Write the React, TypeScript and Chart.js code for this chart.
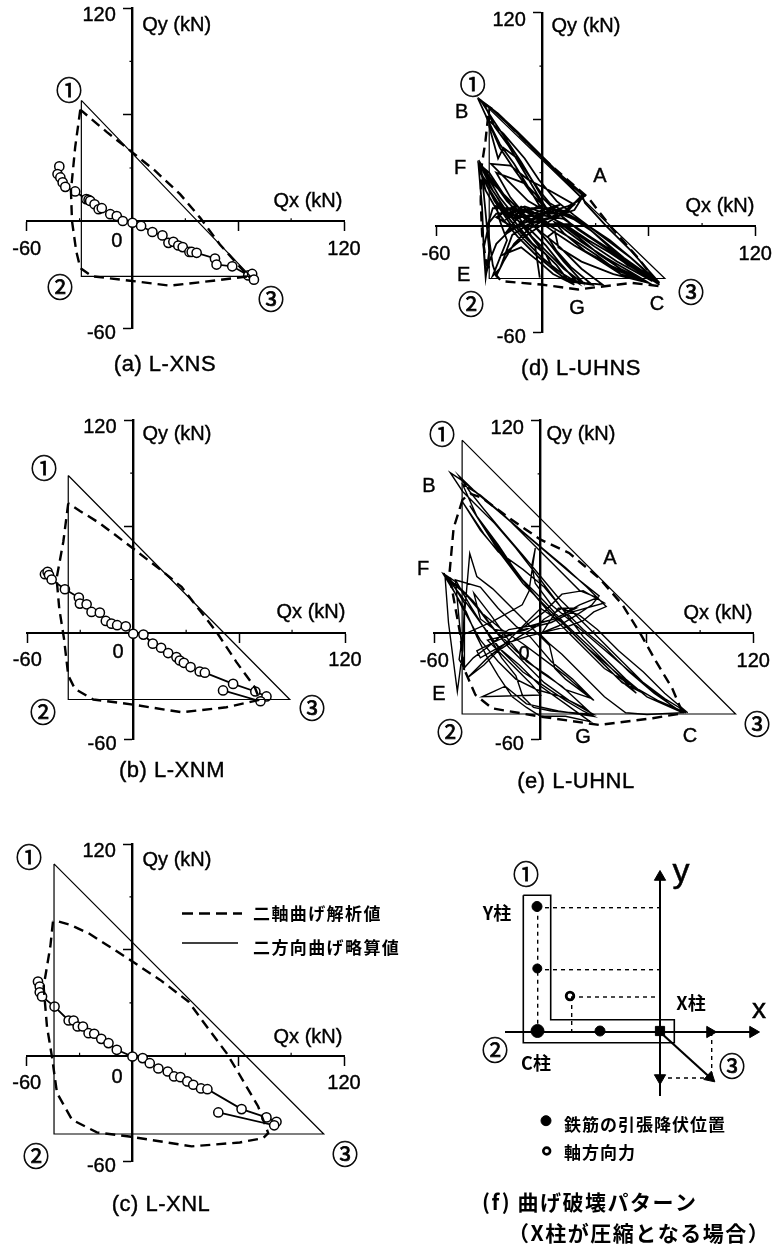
import React, { useEffect, useRef } from "react";
import { Chart, registerables } from "chart.js";

Chart.register(...registerables);

type P = [number, number];

// ---------- shared axis data ----------
const axisTickValuesX = [-60, 60, 120];
const axisTickValuesY = [-60, 60, 120];
const minorTickValuesX = [-30, 30, 90];
const minorTickValuesY = [30, 90];
const xTickLabels: Record<number, string> = { [-60]: "-60", 120: "120" };
const yTickLabels: Record<number, string> = { [-60]: "-60   ", 120: "120   " };

// ---------- (a) L-XNS ----------
const boundA: P[] = [[-29, 68], [-29, -31], [67, -31], [-29, 68]];
const analysisA: P[] = [[-29.6, 62.8], [-32.5, 41.7], [-34.9, 17.2], [-34.3, 0.2], [-31.9, -16.8], [-29.6, -26.2], [-23, -30.9], [-1.3, -33.4], [21.3, -36.2], [45.8, -33.4], [65.7, -30.9], [49.6, -13], [38.3, 2.1], [27, 15.3], [12.8, 28.5], [-1.3, 39.8], [-14.5, 50.2], [-29.6, 62.8]];
const testA: P[] = [[-41.5, 30.9], [-42.5, 26.6], [-40.9, 24.7], [-39.6, 21.9], [-38.1, 19.4], [-32.5, 16.8], [-26.2, 12.5], [-24.9, 12.1], [-24, 11.5], [-21.5, 9.6], [-19.2, 6.8], [-17.4, 7.4], [-12.6, 4], [-8.9, 3], [-5.5, 0.2], [0, -0.8], [4.9, -2.6], [11.3, -6], [17, -7.9], [20.4, -12.1], [23.2, -11.5], [26, -13.6], [28.5, -14.5], [32.3, -17.2], [33.6, -17.2], [36.4, -17.7], [46.8, -20.9], [47.7, -24.3], [56.6, -25.3], [65.7, -30.4], [67.9, -29.6], [68.9, -32.8]];

// ---------- (b) L-XNM ----------
const boundB: P[] = [[-36.8, 88.7], [-36.8, -37.7], [88.7, -37.7], [-36.8, 88.7]];
const analysisB: P[] = [[-36.8, 73], [-39.6, 51.3], [-43.4, 30.6], [-41.9, 13.6], [-39.2, -3.4], [-36.8, -24.2], [-33, -31.7], [-22.6, -37.7], [0, -40.6], [27.4, -44.9], [52.8, -42.1], [71.7, -37.9], [68.9, -30.8], [58.5, -16.6], [47.2, 0.4], [37.7, 12.6], [27.4, 25.8], [17, 34.3], [0, 47.5], [-18.9, 61.7], [-30.2, 68.7], [-36.8, 73]];
const testB: P[] = [[-50, 33], [-48.5, 34.3], [-47.7, 32.5], [-46.2, 30], [-38.7, 24.5], [-30.8, 19.8], [-30.2, 16.4], [-26.4, 16], [-23.6, 11.7], [-18.9, 11.3], [-15.5, 6.6], [-12.3, 5.1], [-9.1, 4.2], [-4.2, 3.6], [0, -0.6], [5.8, -1.1], [11.1, -6.2], [15.8, -8.5], [19.8, -11.5], [24.5, -13.8], [26.4, -15.7], [28.7, -17], [32.5, -19.4], [37.7, -21.9], [40.6, -22.6], [56.6, -28.9], [69.2, -33.2], [75.5, -36], [72.1, -38.7], [50.9, -32.6]];

// ---------- (c) L-XNL ----------
const boundC: P[] = [[-44.5, 108.7], [-44.5, -44.3], [108.5, -44.3], [-44.5, 108.7]];
const analysisC: P[] = [[-45.1, 76], [-46.6, 61.9], [-50.4, 39.2], [-48.5, 16.6], [-45.7, -0.4], [-42.8, -21.1], [-34.3, -36.2], [-20.2, -43.4], [0, -46], [33.6, -51.3], [60.9, -49.1], [74.2, -46.6], [77, -43.8], [71.3, -28.7], [59.1, -7.9], [53.4, 1.5], [42.1, 16.6], [31.7, 30.8], [15.7, 43], [0, 53.4], [-14.5, 62.8], [-24.9, 69.4], [-35.3, 74.2], [-43.8, 76.6], [-45.1, 76]];
const testC: P[] = [[-53.6, 42.1], [-52.6, 39.2], [-52.6, 36], [-51.3, 33.6], [-44.2, 27.9], [-36.2, 20], [-33.4, 20], [-31.1, 16.6], [-28.1, 16.6], [-24.9, 12.8], [-21.7, 12.5], [-17.7, 9.6], [-13.6, 7.2], [-8.9, 3.4], [0, -0.4], [5.8, -1.3], [9.8, -4.2], [14.7, -7.2], [20, -8.9], [23.6, -11.7], [27.2, -12.1], [31.1, -14.5], [34.5, -16.4], [38.9, -18.5], [42.5, -18.9], [61.9, -30.2], [76, -34.9], [81.7, -37.4], [80.4, -39.4], [48.7, -32.1]];

// ---------- (d) L-UHNS ----------
const boundD: P[] = [[-30, 66], [-30, -29.5], [69, -29.5], [-30, 66]];
const analysisD: P[] = [[-30.6, 62], [-32.1, 47.9], [-34.4, 32.9], [-34.8, 14.1], [-34, -4.7], [-31.6, -21.6], [-23.1, -31], [-0.6, -32.9], [20.1, -35.7], [50.2, -32], [66.2, -33.8], [53.9, -17.9], [38.9, -0.9], [25.8, 16], [12.6, 27.3], [0, 38.5], [-13.7, 51.7], [-26.9, 64.8], [-35.9, 70.9]];
const testD: P[] = [
  [0, 0], [6, 4], [12, 7], [18, 9], [23, 17], [12, 27], [0, 39], [-12, 51], [-24, 62], [-34, 70], [-36, 71],
  [-30, 58], [-24, 46], [-16, 35], [-8, 22], [-2, 12], [4, 5], [14, 0], [26, -8], [38, -15], [50, -23], [60, -29], [66, -33],
  [52, -24], [40, -14], [28, -3], [16, 5], [6, 10], [-6, 10], [-16, 8], [-26, 7], [-30, 2], [-33, -12], [-32, -28],
  [-30, -20], [-26, -10], [-20, -4], [-12, 1], [-4, 4], [4, 8], [14, 11], [20, 14], [24, 17],
  [10, 29], [-2, 41], [-14, 53], [-26, 64], [-35, 71],
  [-28, 60], [-20, 48], [-12, 36], [-6, 26], [0, 16], [8, 8], [20, -2], [32, -10], [44, -18], [56, -26], [66, -32],
  [46, -18], [34, -8], [22, 2], [10, 7], [-4, 7], [-18, 10], [-28, 10], [-31, 0], [-28, -22], [-26, -28],
  [-22, -20], [-16, -10], [-8, -2], [2, 4], [12, 8], [22, 16],
  [8, 30], [-6, 44], [-18, 56], [-30, 67],
  [-30, 56], [-25, 38], [-22, 44], [-14, 38], [-6, 26], [-1, 19], [4, 13], [14, 7], [26, 0], [38, -8], [50, -18], [62, -29],
  [48, -22], [36, -12], [24, -4], [12, 4], [0, 6], [-14, 5], [-26, 11], [-24, 3], [-20, -8], [-28, -28],
  [-24, -24], [-17, -5], [-8, 1], [0, 3], [10, 6], [18, 12],
  [4, 20], [-8, 26], [-18, 34], [-29, 35], [-18, 24], [-8, 14], [-1, 10], [8, 3], [20, -6], [32, -16], [44, -24], [58, -31],
  [42, -25], [30, -16], [18, -8], [6, -1], [-4, 5], [-16, 12], [-28, 24], [-36, 37],
  [-30, 26], [-24, 16], [-16, 6], [-8, -4], [0, -14], [8, -22], [14, -30], [24, -32], [34, -33],
  [22, -24], [10, -12], [0, -4], [-10, 4], [-20, 14], [-30, 28], [-36, 36],
  [-28, 20], [-20, 8], [-12, -2], [-4, -12], [-1.5, -29], [-4, -12], [-12, -4], [-22, 8], [-32, 24], [-36, 34],
  [-34, 10], [-33, -15], [-32, -29], [-30, -14], [-34, 28], [-27, 14], [-18, 1], [-10, -8], [0, -18], [10, -26], [20, -32],
  [10, -21], [2, -11], [-8, -1], [-18, 6], [-28, 16], [-35, 30],
  [-26, 17], [-18, 3], [-8, -8], [2, -16], [6, -24], [14, -31], [28, -33],
  [16, -23], [8, -14], [3, -6], [7, -3], [9, -12], [22, -20], [40, -27], [56, -31],
  [40, -23], [24, -14], [12, -4], [7, 2], [16, -2], [30, -12], [42, -20], [62, -31],
  [44, -17], [30, -8], [16, 1], [4, 1], [-8, 10], [-20, 4], [-12, 11], [-4, 7], [-16, 4], [-24, 10], [-14, 9], [-4, 2], [4, 10], [14, 8], [22, 17],
  [14, 9], [2, 7], [-10, 11], [-20, 7], [-10, 5], [0, 9], [10, 12], [-2, 6], [-12, 1], [-20, -3], [-12, 7], [0, 12], [8, 6], [-6, 2], [-16, 11], [-26, 5], [-16, -1], [-6, 6],
  [6, -3], [18, -11], [30, -18], [44, -27], [60, -32],
  [50, -26], [36, -18], [22, -9], [10, 0], [0, 1], [-10, -6], [-22, -16], [-12, -12], [-2, -20], [6, -27], [18, -33],
  [8, -26], [-4, -16], [-14, -6], [-24, 6], [-32, 20], [-36, 35],
  [-30, 30], [-22, 18], [-14, 6], [-6, -6], [2, -14], [12, -24], [24, -33],
  [12, -20], [4, -10], [-8, 4], [-18, 16], [-26, 30],
  [-10, 24], [-4, 18], [2, 10], [-6, 18], [-16, 32], [-24, 44], [-31, 60], [-22, 52], [-10, 38], [-2, 26], [8, 14], [18, 6], [34, -6], [50, -18], [66, -32],
  [50, -14], [36, 0], [24, 13], [22, 18], [11, 27.5], [-1, 39.5], [-13, 52], [-25, 63], [-33, 69],
  [-27, 56], [-19, 45], [-10, 30], [-3, 18], [3, 9],
];

// ---------- (e) L-UHNL ----------
const boundE: P[] = [[-44.3, 109], [-44.3, -45.7], [110, -45.7], [-44.3, 109]];
const analysisE: P[] = [[-44, 75.5], [-49.1, 59.4], [-51.5, 33], [-48.1, 14.2], [-45.3, -0.9], [-43.4, -19.8], [-36.8, -34.9], [-27.4, -42.5], [0, -47.2], [33, -51.9], [63.2, -48.1], [80.2, -45.3], [74.2, -31.1], [65.1, -16], [56.6, -0.9], [46.2, 16], [33, 31.1], [16, 45.3], [0, 52.8], [-17.9, 65.1], [-33, 76.4], [-39.6, 78.7], [-44, 75.5]];
const testE: P[] = [
  [0, 0], [8, 2], [16, 4], [24, 7], [30, 12], [37, 15],
  [26, 26], [14, 37], [2, 47], [-12, 59], [-26, 71], [-38, 81], [-46, 88.7],
  [-40, 80], [-32, 70], [-22, 58], [-10, 44], [0, 32], [10, 20], [22, 8], [34, -4], [46, -16], [58, -28], [70, -37], [83, -45],
  [70, -34], [58, -22], [44, -10], [32, 2], [22, 10], [12, 14], [2, 8], [-2, 4], [-12, -2], [-24, -10], [-32, -18], [-41, -25],
  [-36, -20], [-30, -14], [-20, -6], [-8, -2], [0, 0], [10, 4], [20, 10], [29, 16], [33, 21],
  [18, 33], [4, 45], [-10, 57], [-24, 69], [-36, 79], [-44, 86], [-51, 90.6],
  [-44, 80], [-36, 72], [-26, 62], [-14, 48], [0, 30], [12, 14], [24, -2], [36, -14], [48, -26], [60, -36], [78, -44],
  [60, -30], [46, -18], [32, -6], [18, 6], [6, 16], [-3, 28], [-5, 38], [-3, 48], [-6.6, 23.6], [-10.4, 16], [-27, 6.6], [-44, -1],
  [-46, -15], [-43, -20], [-43, 10], [-40, 45], [-36, 32], [-27, 25], [-16, 14], [-6, 4], [0, -2], [5, -7], [8, -20], [14, -26], [30, -38],
  [14, -24], [2, -15], [-10, -6], [-22, 2], [-34, 12], [-44, 24], [-54.7, 33],
  [-48, 22], [-42, 12], [-36, -2], [-30, -14], [-24, -24], [-16, -36], [-8, -42], [0, -47], [14, -47], [28, -50],
  [14, -40], [0, -30], [-12, -18], [-24, -8], [-34, 6], [-44, 20], [-54, 33],
  [-52, 6], [-47, -33], [-44, -10], [-43, 17], [-48, 25], [-54, 33], [-48, 29], [-43.4, -20],
  [-38, -14], [-30, -8], [-18, 2], [-6, 4], [8, 8], [22, 16], [32, 20],
  [22, 24], [8, 38], [-6, 52], [-20, 66], [-34, 78], [-44, 84],
  [-36, 66], [-24, 50], [-12, 32], [-2, 20], [8, 10], [20, -2], [32, -14], [46, -28], [54, -32],
  [40, -20], [26, -8], [12, 6], [0, 14], [-8, 6], [-20, -6], [-34, -14], [-36, -10],
  [-24, -4], [-10, 2], [6, 6], [18, 12], [36, 17],
  [24, 24], [12, 22], [2, 12], [-14, 0], [-26, 2], [-34, 8], [-37.7, 22.6],
  [-28, 10], [-18, -4], [-8, -16], [4, -24], [14, -32], [29, -37],
  [18, -26], [6, -16], [-6, -2], [-14, 4], [-24, 14], [-34, 26], [-48, 30],
  [-40, 16], [-30, 0], [-22, -14], [-14, -24], [-10, -36], [-4, -42], [6, -44], [30, -46],
  [16, -38], [2, -28], [-8, -18], [-18, -8], [-28, 4], [-40, 20], [-52, 30],
  [-44, 14], [-34, -4], [-24, -16], [-14, -26], [-2, -32], [12, -36], [26, -43],
  [12, -30], [0, -22], [-14, -10], [-26, 2], [-38, 18], [-46, 26],
  [-34, 6], [-22, -10], [-10, -22], [2, -30], [14, -38], [24, -44], [30, -47],
  [10, -44], [-8, -40], [-20, -30], [-33, -36], [0, -35], [-6, -28], [-20, -14], [-30, -4], [-22, -2], [-8, 2], [0, 6], [8, 8], [20, 14],
  [10, 14], [0, -1], [5, -6], [12, -12], [24, -24], [36, -36], [48, -45], [60, -46], [80, -45],
  [64, -34], [50, -22], [36, -8], [24, 2], [12, 14], [2, 26], [-10, 36], [-24, 46], [-32, 56], [-44, 74],
  [-34, 58], [-22, 44], [-10, 28], [4, 14], [16, 2], [30, -12], [44, -26], [54, -34],
  [42, -22], [28, -8], [14, 5], [2, 18], [-12, 32], [-26, 50], [-40, 72],
  [-28, 54], [-16, 38], [-4, 22], [8, 8], [22, -6], [36, -20], [52, -30], [66, -38], [82, -45],
];

// ---------- hand-read labels ----------
const legendLabels = ["二軸曲げ解析値", "二方向曲げ略算値"];
const noteLabels = ["鉄筋の引張降伏位置", "軸方向力"];

// ---------- (f) section sketch (schematic units) ----------
const sectionOutline: P[] = [[-136.7, 136.7], [-109.3, 136.7], [-109.3, 12.3], [14.3, 12.3], [14.3, -10.7], [-136.7, -10.7], [-136.7, 136.7]];
const axisXLine: P[] = [[-155, 0], [93, 0]];
const axisYLine: P[] = [[0, 155], [0, -64]];
const resultant: P[] = [[0, 0], [50, -45.5]];
const dashedLines: P[][] = [
  [[-123, 124.3], [0, 124.3]],
  [[-123, 62.3], [0, 62.3]],
  [[-89, 35], [0, 35]],
  [[-122.3, 124.3], [-122.3, 0]],
  [[-88.3, 35], [-88.3, 0]],
  [[51.7, 0], [51.7, -46]],
  [[0, -46], [50.7, -46]],
];
const arrowPoints: P[] = [[0, 155], [93, 0], [50, 0], [0, -46], [50, -45.5]];
const arrowAngles = [0, 90, 90, 180, 132];
const yieldPoints: P[] = [[-123, 125.5], [-122.7, 63.5], [-122.5, 1], [-60, 1]];
const yieldSizes = [5, 4.5, 6.5, 5];
const axialPoint: P[] = [[-90, 36]];
const centerPoint: P[] = [[0, 1]];
const noteYieldMark: P[] = [[-114, -88.7]];
const noteAxialMark: P[] = [[-113.3, -119]];

// ---------- layout ----------
const SANS = '"Liberation Sans","Noto Sans CJK JP",sans-serif';
const CJK = '"Noto Sans CJK JP","Liberation Sans",sans-serif';
const NUM = `26px ${CJK}`;
const TXT = `20px ${SANS}`;
const CAP = `22px ${SANS}`;

type Lab = { t: string; x: number; y: number; f?: string; ls?: string; al?: CanvasTextAlign; st?: number };

const circ = (t: string, x: number, y: number): Lab => ({ t, x, y, f: NUM, st: 0.7 });
const tx = (t: string, x: number, y: number): Lab => ({ t, x, y, f: TXT, st: 0.4 });
const cap = (t: string, x: number, y: number): Lab => ({ t, x, y, f: CAP, ls: "0.5px", st: 0.4 });

type PanelCfg = {
  rect: { l: number; t: number; w: number; h: number };
  box: { l: number; r: number; t: number; b: number };
  bound: P[]; analysis: P[]; test: P[]; markers: boolean; testWidth: number;
  labels: Lab[]; legend?: boolean;
};

const panels: PanelCfg[] = [
  {
    rect: { l: 0, t: 0, w: 420, h: 395 }, box: { l: 26.7, r: 344, t: 8, b: 328 },
    bound: boundA, analysis: analysisA, test: testA, markers: true, testWidth: 1.8,
    labels: [circ("①", 69, 90), circ("②", 60, 287), circ("③", 271, 299), tx("0", 116.7, 241.7), tx("Qy (kN)", 176.7, 25), tx("Qx (kN)", 308, 201.7), cap("(a) L-XNS", 165, 365)],
  },
  {
    rect: { l: 0, t: 395, w: 420, h: 410 }, box: { l: 27.3, r: 345, t: 420, b: 739 },
    bound: boundB, analysis: analysisB, test: testB, markers: true, testWidth: 1.8,
    labels: [circ("①", 44, 468), circ("②", 43, 712), circ("③", 312, 708), tx("0", 118, 652), tx("Qy (kN)", 177, 434), tx("Qx (kN)", 311, 612), cap("(b) L-XNM", 172, 771)],
  },
  {
    rect: { l: 0, t: 805, w: 420, h: 440 }, box: { l: 26.7, r: 344, t: 844, b: 1161.7 },
    bound: boundC, analysis: analysisC, test: testC, markers: true, testWidth: 1.8, legend: true,
    labels: [circ("①", 29, 857), circ("②", 36, 1156), circ("③", 345, 1154), tx("0", 117, 1077), tx("Qy (kN)", 177, 860), tx("Qx (kN)", 308, 1037), cap("(c) L-XNL", 161, 1205)],
  },
  {
    rect: { l: 400, t: 0, w: 382, h: 395 }, box: { l: 436, r: 755.3, t: 12.7, b: 332.7 },
    bound: boundD, analysis: analysisD, test: testD, markers: false, testWidth: 1.8,
    labels: [circ("①", 472.7, 84.3), circ("②", 471, 304), circ("③", 691, 291.7), tx("B", 461.7, 112), tx("F", 460, 168), tx("E", 463.7, 275), tx("G", 577, 308), tx("C", 657, 304), tx("A", 600, 176.7), tx("Qy (kN)", 586, 26), tx("Qx (kN)", 720, 206), cap("(d) L-UHNS", 581, 369)],
  },
  {
    rect: { l: 400, t: 395, w: 382, h: 410 }, box: { l: 434.3, r: 753.3, t: 420.7, b: 739.3 },
    bound: boundE, analysis: analysisE, test: testE, markers: false, testWidth: 1.4,
    labels: [circ("①", 442, 434), circ("②", 450, 732), circ("③", 757, 724), tx("B", 429, 486), tx("F", 423, 569), tx("E", 439, 694), tx("G", 583, 737), tx("C", 690, 736), tx("A", 610, 558), tx("0", 524, 654), tx("Qy (kN)", 581, 434), tx("Qx (kN)", 718, 613), cap("(e) L-UHNL", 576, 782)],
  },
];

const sketchRect = { l: 440, t: 850, w: 342, h: 395 };
const sketchOrigin = { x: 660, y: 1032 };
const sketchLabels: Lab[] = [
  circ("①", 526, 874), circ("②", 495, 1050), circ("③", 732, 1066),
  { t: "y", x: 681, y: 873, f: `34px ${SANS}`, st: 0.5 },
  { t: "x", x: 759, y: 1010, f: `28px ${SANS}`, st: 0.5 },
  { t: "Y柱", x: 497, y: 913, f: `bold 18px ${CJK}` },
  { t: "X柱", x: 691, y: 1003, f: `bold 18px ${CJK}` },
  { t: "C柱", x: 536, y: 1063, f: `bold 18px ${CJK}` },
  { t: noteLabels[0], x: 564, y: 1125, f: `bold 17px ${CJK}`, ls: "1px", al: "left" },
  { t: noteLabels[1], x: 564, y: 1153, f: `bold 17px ${CJK}`, ls: "1px", al: "left" },
  { t: "(f) 曲げ破壊パターン", x: 482, y: 1202, f: `bold 21px ${CJK}`, ls: "1.5px", al: "left" },
  { t: "（X柱が圧縮となる場合）", x: 508, y: 1233, f: `bold 21px ${CJK}`, ls: "1.5px", al: "left" },
];

const xy = (a: P[]) => a.map(([x, y]) => ({ x, y }));

function textPlugin(labels: Lab[], rect: { l: number; t: number }) {
  return {
    id: "texts",
    afterDraw(chart: any) {
      const c = chart.ctx as CanvasRenderingContext2D;
      c.save();
      c.fillStyle = "#000";
      c.strokeStyle = "#000";
      c.textBaseline = "middle";
      for (const L of labels) {
        c.font = L.f || TXT;
        c.textAlign = L.al || "center";
        (c as any).letterSpacing = L.ls || "0px";
        c.fillText(L.t, L.x - rect.l, L.y - rect.t);
        if (L.st) { c.lineWidth = L.st; c.strokeText(L.t, L.x - rect.l, L.y - rect.t); }
      }
      c.restore();
    },
  };
}

const minorTicks = {
  id: "minorTicks",
  afterDraw(chart: any) {
    const c = chart.ctx as CanvasRenderingContext2D;
    const { x, y } = chart.scales;
    const x0 = x.getPixelForValue(0), y0 = y.getPixelForValue(0);
    c.save();
    c.strokeStyle = "#000";
    c.lineWidth = 1.2;
    c.beginPath();
    for (const v of minorTickValuesX) { const p = x.getPixelForValue(v); c.moveTo(p, y0); c.lineTo(p, y0 - 3); }
    for (const v of minorTickValuesY) { const p = y.getPixelForValue(v); c.moveTo(x0, p); c.lineTo(x0 - 3, p); }
    c.stroke();
    c.restore();
  },
};

function legendPlugin(rect: { l: number; t: number }) {
  return {
    id: "legendSamples",
    afterDraw(chart: any) {
      const c = chart.ctx as CanvasRenderingContext2D;
      c.save();
      c.strokeStyle = "#000";
      c.lineWidth = 2.4;
      c.setLineDash([11, 6]);
      c.beginPath(); c.moveTo(182 - rect.l, 913.5 - rect.t); c.lineTo(242 - rect.l, 913.5 - rect.t); c.stroke();
      c.setLineDash([]);
      c.lineWidth = 1.3;
      c.beginPath(); c.moveTo(182 - rect.l, 943 - rect.t); c.lineTo(238 - rect.l, 943 - rect.t); c.stroke();
      c.fillStyle = "#000";
      c.textBaseline = "middle";
      c.textAlign = "left";
      c.font = `bold 17px ${CJK}`;
      (c as any).letterSpacing = "1.4px";
      c.fillText(legendLabels[0], 253 - rect.l, 914 - rect.t);
      c.fillText(legendLabels[1], 253 - rect.l, 948 - rect.t);
      c.restore();
    },
  };
}

const zeroMargins = (s: any) => { s.paddingLeft = 0; s.paddingRight = 0; s.paddingTop = 0; s.paddingBottom = 0; };

function makePanel(cv: HTMLCanvasElement, p: PanelCfg) {
  const { rect, box } = p;
  const plugins: any[] = [minorTicks, textPlugin(p.labels, rect)];
  if (p.legend) plugins.push(legendPlugin(rect));
  const datasets: any[] = [
    { label: "二方向曲げ略算値", data: xy(p.bound), showLine: true, borderColor: "#000", borderWidth: 1.2, pointRadius: 0, clip: false },
    { label: "二軸曲げ解析値", data: xy(p.analysis), showLine: true, borderColor: "#000", borderWidth: 2.4, borderDash: [10, 6], pointRadius: 0, clip: false },
    p.markers
      ? { label: "実験値", data: xy(p.test), showLine: true, borderColor: "#000", borderWidth: p.testWidth, pointRadius: 4.6, pointBackgroundColor: "#fff", pointBorderColor: "#000", pointBorderWidth: 1.5, clip: false }
      : { label: "実験値", data: xy(p.test), showLine: true, borderColor: "#000", borderWidth: p.testWidth, pointRadius: 0, clip: false },
  ];
  return new Chart(cv, {
    type: "scatter",
    data: { datasets },
    plugins,
    options: {
      responsive: false, animation: false, devicePixelRatio: 1,
      layout: { autoPadding: false, padding: { left: box.l - rect.l, right: rect.l + rect.w - box.r, top: box.t - rect.t, bottom: rect.t + rect.h - box.b } },
      plugins: { legend: { display: false }, tooltip: { enabled: false } },
      scales: {
        x: {
          type: "linear", min: -60, max: 120, position: { y: 0 } as any,
          afterFit: (s: any) => { s.height = 0; zeroMargins(s); },
          afterBuildTicks: (s: any) => { s.ticks = axisTickValuesX.map((value) => ({ value })); },
          grid: { drawOnChartArea: false, drawTicks: true, tickLength: 9, tickColor: "#000", tickWidth: 1.5 },
          border: { display: true, color: "#000", width: 2 },
          ticks: { autoSkip: false, maxRotation: 0, color: "#000", padding: 7, textStrokeColor: "#000", textStrokeWidth: 0.4, font: { size: 20, family: SANS }, callback: (v: any) => xTickLabels[v] ?? "" },
        },
        y: {
          type: "linear", min: -60, max: 120, position: { x: 0 } as any,
          afterFit: (s: any) => { s.width = 0; zeroMargins(s); },
          afterBuildTicks: (s: any) => { s.ticks = axisTickValuesY.map((value) => ({ value })); },
          grid: { drawOnChartArea: false, drawTicks: true, tickLength: 8, tickColor: "#000", tickWidth: 1.5 },
          border: { display: true, color: "#000", width: 2.4 },
          ticks: {
            autoSkip: false, color: "#000", padding: 7, textStrokeColor: "#000", textStrokeWidth: 0.4,
            font: (ctx: any) => ({ size: 20, family: SANS, lineHeight: ctx.tick && ctx.tick.value === 120 ? 0.75 : 0.5 }),
            callback: (v: any) => (yTickLabels[v] ? ["", yTickLabels[v]] : ""),
          },
        },
      },
    },
  });
}

function makeSketch(cv: HTMLCanvasElement) {
  const r = sketchRect, o = sketchOrigin;
  const line = (a: P[], w: number, dash?: number[]) => ({ data: xy(a), showLine: true, borderColor: "#000", borderWidth: w, borderDash: dash || [], pointRadius: 0, clip: false });
  const datasets: any[] = [
    line(sectionOutline, 1.6),
    ...dashedLines.map((d) => line(d, 1.4, [4, 4])),
    line(axisXLine, 2),
    line(axisYLine, 2),
    line(resultant, 2.2),
    { data: xy(arrowPoints), showLine: false, pointStyle: "triangle", pointRadius: 6.5, pointRotation: arrowAngles, pointBackgroundColor: "#000", pointBorderColor: "#000", clip: false },
    { data: xy(yieldPoints), showLine: false, pointStyle: "circle", pointRadius: yieldSizes, pointBackgroundColor: "#000", pointBorderColor: "#000", clip: false },
    { data: xy(centerPoint), showLine: false, pointStyle: "rect", pointRadius: 6.5, pointBackgroundColor: "#000", pointBorderColor: "#000", clip: false },
    { data: xy(axialPoint), showLine: false, pointStyle: "circle", pointRadius: 3.8, pointBackgroundColor: "#fff", pointBorderColor: "#000", pointBorderWidth: 2.8, clip: false },
    { data: xy(noteYieldMark), showLine: false, pointStyle: "circle", pointRadius: 5, pointBackgroundColor: "#000", pointBorderColor: "#000", clip: false },
    { data: xy(noteAxialMark), showLine: false, pointStyle: "circle", pointRadius: 3.4, pointBackgroundColor: "#fff", pointBorderColor: "#000", pointBorderWidth: 2.6, clip: false },
  ];
  return new Chart(cv, {
    type: "scatter",
    data: { datasets },
    plugins: [textPlugin(sketchLabels, r)],
    options: {
      responsive: false, animation: false, devicePixelRatio: 1,
      layout: { autoPadding: false, padding: 0 },
      plugins: { legend: { display: false }, tooltip: { enabled: false } },
      scales: {
        x: { type: "linear", display: false, min: r.l - o.x, max: r.l + r.w - o.x },
        y: { type: "linear", display: false, min: o.y - (r.t + r.h), max: o.y - r.t },
      },
    },
  });
}

export default function App() {
  const refs = useRef<(HTMLCanvasElement | null)[]>([]);
  useEffect(() => {
    document.body.style.margin = "0";
    document.body.style.background = "#fff";
    const charts = panels.map((p, i) => makePanel(refs.current[i]!, p));
    charts.push(makeSketch(refs.current[panels.length]!));
    return () => charts.forEach((c) => c.destroy());
  }, []);
  const rects = [...panels.map((p) => p.rect), sketchRect];
  return (
    <div style={{ position: "relative", width: 782, height: 1245, overflow: "hidden", background: "#fff" }}>
      {rects.map((r, i) => (
        <canvas
          key={i}
          ref={(el) => { refs.current[i] = el; }}
          width={r.w}
          height={r.h}
          style={{ position: "absolute", left: r.l, top: r.t, width: r.w, height: r.h }}
        />
      ))}
    </div>
  );
}
